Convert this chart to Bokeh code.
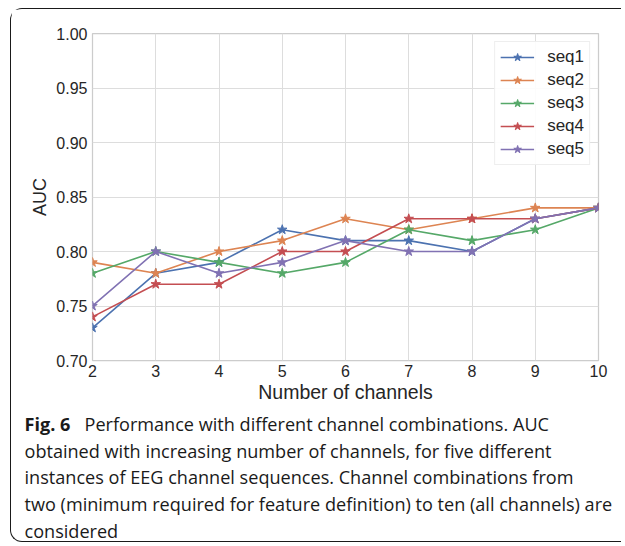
from bokeh.plotting import figure
from bokeh.layouts import column
from bokeh.models import Legend, LegendItem, FixedTicker, NumeralTickFormatter, Div
from bokeh.embed import file_html
from bokeh.resources import INLINE

channels = [2, 3, 4, 5, 6, 7, 8, 9, 10]
seq1 = [0.73, 0.78, 0.79, 0.82, 0.81, 0.81, 0.80, 0.83, 0.84]
seq2 = [0.79, 0.78, 0.80, 0.81, 0.83, 0.82, 0.83, 0.84, 0.84]
seq3 = [0.78, 0.80, 0.79, 0.78, 0.79, 0.82, 0.81, 0.82, 0.84]
seq4 = [0.74, 0.77, 0.77, 0.80, 0.80, 0.83, 0.83, 0.83, 0.84]
seq5 = [0.75, 0.80, 0.78, 0.79, 0.81, 0.80, 0.80, 0.83, 0.84]
series_names = ["seq1", "seq2", "seq3", "seq4", "seq5"]
series_values = [seq1, seq2, seq3, seq4, seq5]
colors = ["#4C72B0", "#DD8452", "#55A868", "#C44E52", "#8172B3"]
y_ticks = [0.70, 0.75, 0.80, 0.85, 0.90, 0.95, 1.00]
x_ticks = channels
x_label = "Number of channels"
y_label = "AUC"
caption_bold = "Fig. 6"
caption_lines = [
    "Performance with different channel combinations. AUC",
    "obtained with increasing number of channels, for five different",
    "instances of EEG channel sequences. Channel combinations from",
    "two (minimum required for feature definition) to ten (all channels) are",
    "considered",
]

FONT = "Liberation Sans"
CAP_FONT = "Open Sans"
W = 610
H_CHART = 396
H_CAP = 136

p = figure(
    width=W, height=H_CHART,
    x_range=(2, 10), y_range=(0.70, 1.00),
    output_backend="svg", toolbar_location=None,
    min_border_left=81, min_border_right=23, min_border_top=24, min_border_bottom=45,
    border_fill_color="white", background_fill_color="white",
)

p.outline_line_color = "#cccccc"
p.outline_line_width = 1.25
p.grid.grid_line_color = "#dddddd"
p.grid.grid_line_width = 1

p.xaxis.ticker = FixedTicker(ticks=x_ticks)
p.yaxis.ticker = FixedTicker(ticks=y_ticks)
p.yaxis.formatter = NumeralTickFormatter(format="0.00")
for ax in (p.xaxis, p.yaxis):
    ax.axis_line_color = None
    ax.major_tick_line_color = None
    ax.minor_tick_line_color = None
    ax.major_tick_out = 0
    ax.major_tick_in = 0
    ax.major_label_text_font = FONT
    ax.major_label_text_font_size = "16px"
    ax.major_label_text_color = "#262626"
    ax.axis_label_text_font = FONT
    ax.axis_label_text_font_style = "normal"
    ax.axis_label_text_color = "#262626"
p.xaxis.axis_label = x_label
p.yaxis.axis_label = y_label
p.xaxis.axis_label_text_font_size = "19.5px"
p.yaxis.axis_label_text_font_size = "18px"
p.xaxis.major_label_standoff = 4
p.yaxis.major_label_standoff = 5
p.xaxis.axis_label_standoff = 1
p.yaxis.axis_label_standoff = 3

items = []
for name, vals, c in zip(series_names, series_values, colors):
    lr = p.line(channels, vals, line_color=c, line_width=1.6)
    sr = p.scatter(channels, vals, marker="star", size=10, fill_color=c, line_color=c)
    items.append(LegendItem(label=name, renderers=[lr, sr]))

legend = Legend(
    items=items, location="top_right",
    margin=8, padding=5, spacing=3,
    glyph_width=34, glyph_height=20, label_height=20, label_standoff=13,
    label_text_font=FONT, label_text_font_size="17px", label_text_color="#262626",
    border_line_color="#dddddd", border_line_width=1,
    background_fill_color="white", background_fill_alpha=0.9,
)
p.add_layout(legend)

# caption below the chart
first = "<b>" + caption_bold + "</b>&nbsp;&nbsp;&nbsp;" + caption_lines[0]
html_lines = [first] + caption_lines[1:]
caption_html = (
    '<div style="font-family: \'Open Sans\'; font-size: 18.1px; line-height: 26.7px; '
    'color: #1a1a1a; padding: 6px 0 0 13.5px; margin: 0; white-space: nowrap;">'
    + "<br>".join(html_lines) + "</div>"
)
cap = Div(text=caption_html, width=W, height=H_CAP, margin=0)

layout = column(
    p, cap, spacing=0,
    styles={
        "margin-left": "10px",
        "margin-top": "8px",
        "border-left": "1.5px solid #1a1a1a",
        "border-top": "1.5px solid #1a1a1a",
        "border-bottom": "1.5px solid #1a1a1a",
        "border-top-left-radius": "12px",
        "border-bottom-left-radius": "12px",
    },
)

open("out.html", "w").write(file_html(layout, INLINE))
